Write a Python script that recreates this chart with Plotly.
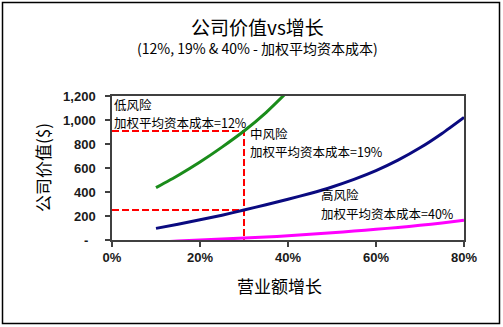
import plotly.graph_objects as go

# ---- data ----
growth_low = [10, 15, 20, 25, 30, 35, 40]
value_low = [436, 538, 650, 774, 908, 1062, 1240]

growth_mid = [10, 15, 20, 25, 30, 35, 40, 45, 50, 55, 60, 65, 70, 75, 80]
value_mid = [97, 131, 168, 207, 250, 294, 340, 388, 442, 505, 578, 665, 768, 888, 1022]

growth_high = [10, 15, 20, 25, 30, 35, 40, 45, 50, 55, 60, 65, 70, 75, 80]
value_high = [-20, -8, 0, 8, 16, 25, 35, 47, 60, 74, 89, 105, 122, 142, 165]

ref_growth = 30
ref_value_low = 908
ref_value_mid = 250

x_tick_vals = [0, 20, 40, 60, 80]
x_tick_text = ["0%", "20%", "40%", "60%", "80%"]
y_tick_vals = [0, 200, 400, 600, 800, 1000, 1200]
y_tick_text = ["-\u00a0\u00a0", "200", "400", "600", "800", "1,000", "1,200"]

title_text = "公司价值vs增长"
subtitle_text = "(12%, 19% & 40% - 加权平均资本成本)"
x_title = "营业额增长"
y_title = "公司价值($)"
label_low = ["低风险", "加权平均资本成本=12%"]
label_mid = ["中风险", "加权平均资本成本=19%"]
label_high = ["高风险", "加权平均资本成本=40%"]

CJK = "Noto Sans CJK SC"
LAT = "Liberation Sans"
RED_DASH = "7px,3px"

# plot-area geometry in pixels (for text placement only)
PX_L, PX_R, PX_T, PX_B = 112, 464, 96, 240


def py_to_paper(py):
    return (PX_B - py) / (PX_B - PX_T)


def px_to_paper(px):
    return (px - PX_L) / (PX_R - PX_L)


fig = go.Figure()

# reference dashed lines
fig.add_trace(go.Scatter(x=[0, ref_growth, ref_growth], y=[ref_value_low, ref_value_low, 0],
                         mode="lines", line=dict(color="#ff0000", width=2, dash=RED_DASH),
                         hoverinfo="skip", showlegend=False))
fig.add_trace(go.Scatter(x=[0, ref_growth], y=[ref_value_mid, ref_value_mid],
                         mode="lines", line=dict(color="#ff0000", width=2, dash=RED_DASH),
                         hoverinfo="skip", showlegend=False))

fig.add_trace(go.Scatter(x=growth_low, y=value_low, mode="lines",
                         line=dict(color="#1a8c1a", width=3, shape="spline", smoothing=0.6),
                         showlegend=False))
fig.add_trace(go.Scatter(x=growth_mid, y=value_mid, mode="lines",
                         line=dict(color="#0a0a80", width=3, shape="spline", smoothing=0.6),
                         showlegend=False))
fig.add_trace(go.Scatter(x=growth_high, y=value_high, mode="lines",
                         line=dict(color="#ff00ff", width=3, shape="spline", smoothing=0.6),
                         showlegend=False))

ann_font = dict(family=CJK, size=12.5, color="#000000")
annotations = []
LINE_GAP = 18.5
for lines, left_px, mid_py in [(label_low, 112.3, 113.4),
                               (label_mid, 248.3, 142.7),
                               (label_high, 319.3, 204.0)]:
    for i, txt in enumerate(lines):
        cy = mid_py + (i - 0.5) * LINE_GAP
        annotations.append(dict(x=px_to_paper(left_px), y=py_to_paper(cy),
                                xref="paper", yref="paper", text=txt, showarrow=False,
                                xanchor="left", yanchor="middle", align="left",
                                font=ann_font))

annotations += [
    # title & subtitle
    dict(x=px_to_paper(257.5), y=py_to_paper(27), xref="paper", yref="paper",
         text=title_text, showarrow=False, xanchor="center", yanchor="middle",
         font=dict(family=CJK, size=19, color="#000000")),
    dict(x=px_to_paper(257.5), y=py_to_paper(48.5), xref="paper", yref="paper",
         text=subtitle_text, showarrow=False, xanchor="center", yanchor="middle",
         font=dict(family=CJK, size=14, color="#000000")),
    # axis titles
    dict(x=px_to_paper(279), y=py_to_paper(285), xref="paper", yref="paper",
         text=x_title, showarrow=False, xanchor="center", yanchor="middle",
         font=dict(family=CJK, size=17, color="#000000")),
    dict(x=px_to_paper(42), y=py_to_paper(168), xref="paper", yref="paper",
         text=y_title, showarrow=False, xanchor="center", yanchor="middle", textangle=-90,
         font=dict(family=CJK, size=17, color="#000000")),
]

fig.update_layout(
    width=503, height=327,
    margin=dict(l=PX_L, r=503 - PX_R, t=PX_T, b=327 - PX_B, autoexpand=False),
    paper_bgcolor="#ffffff", plot_bgcolor="#ffffff",
    annotations=annotations,
    shapes=[dict(type="rect", xref="paper", yref="paper",
                 x0=px_to_paper(2.5), x1=px_to_paper(499.5),
                 y0=py_to_paper(323.5), y1=py_to_paper(2.5),
                 line=dict(color="#000000", width=1.5), layer="below")],
)

fig.update_xaxes(range=[0, 80], tickvals=x_tick_vals, ticktext=x_tick_text,
                 showgrid=False, zeroline=False, showline=True, mirror=True,
                 linecolor="#404040", linewidth=1.5, ticks="outside", ticklen=5,
                 tickcolor="#404040", tickwidth=1.5,
                 tickfont=dict(family=LAT, size=13, color="#1a1a1a", weight="bold"))
fig.update_yaxes(range=[0, 1200], tickvals=y_tick_vals, ticktext=y_tick_text,
                 showgrid=False, zeroline=False, showline=True, mirror=True,
                 linecolor="#404040", linewidth=1.5, ticks="outside", ticklen=5,
                 tickcolor="#404040", tickwidth=1.5, ticklabelstandoff=7,
                 tickfont=dict(family=LAT, size=13, color="#1a1a1a", weight="bold"))

fig.write_html("out.html")
